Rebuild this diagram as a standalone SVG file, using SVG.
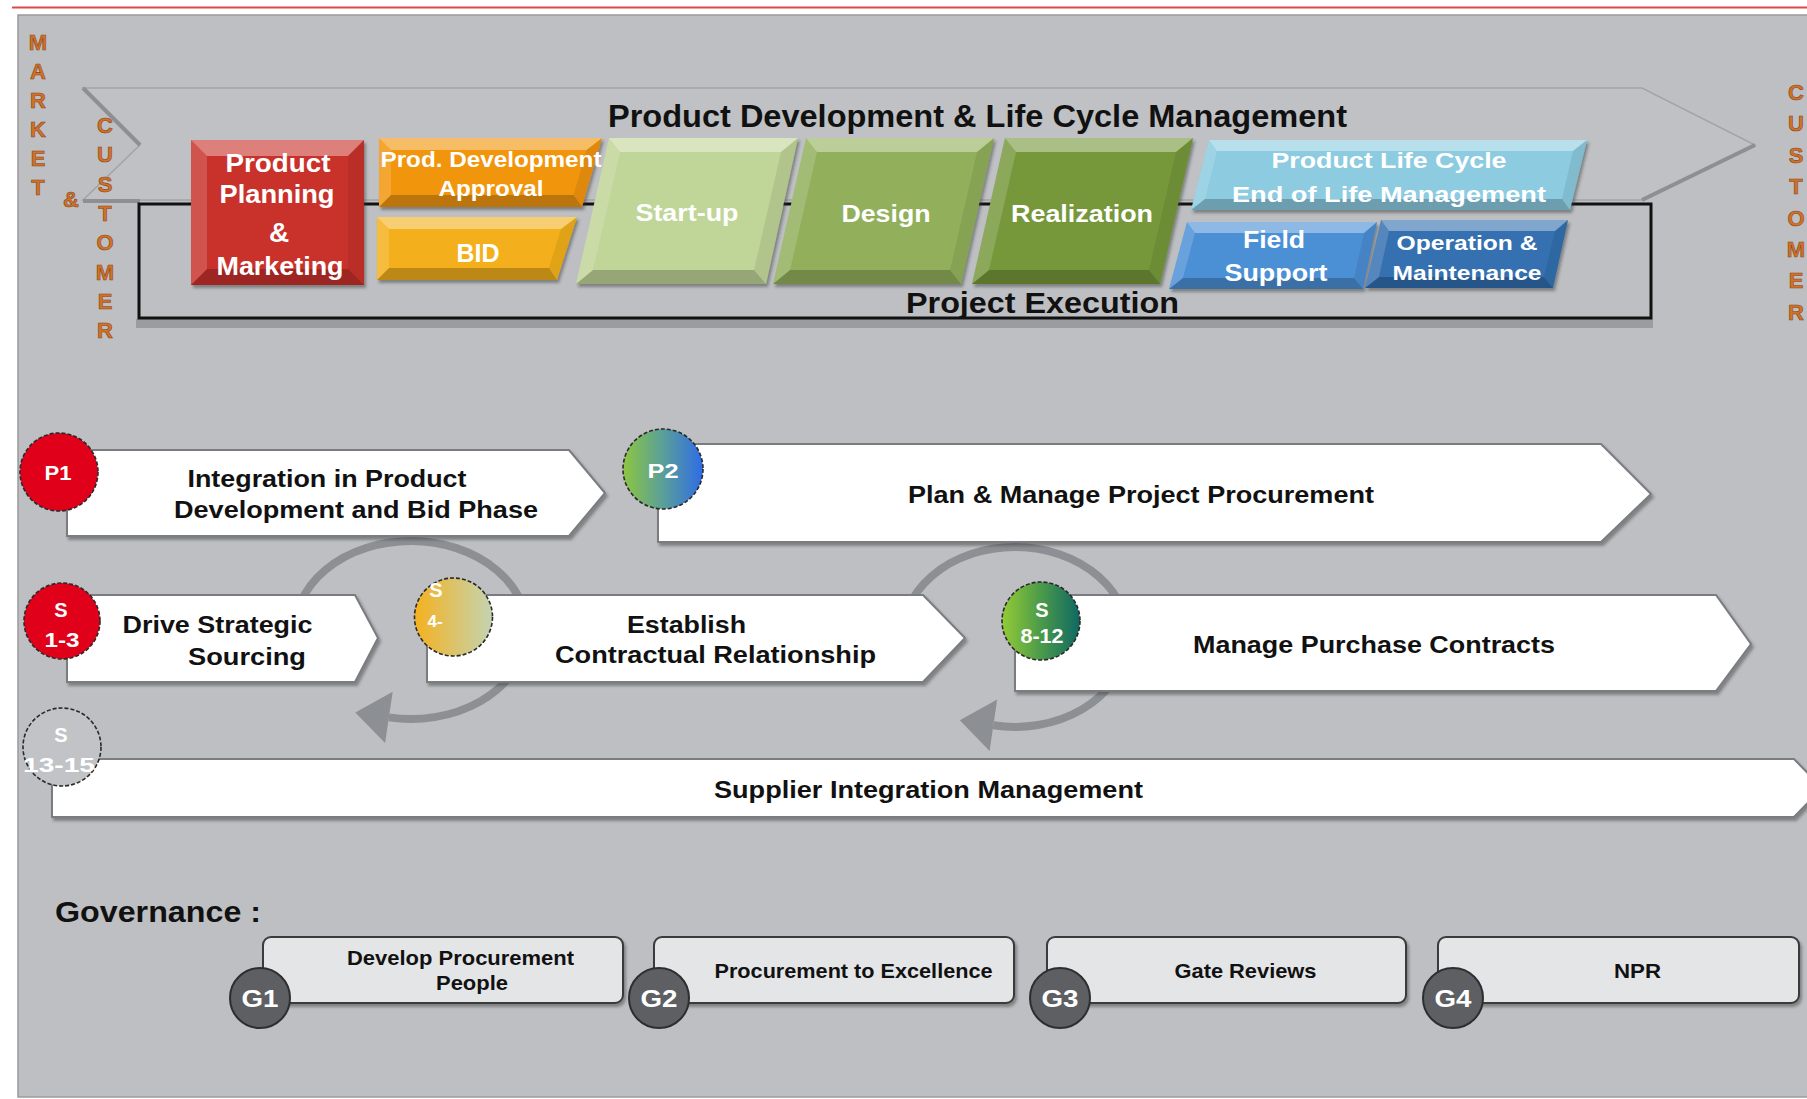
<svg xmlns="http://www.w3.org/2000/svg" width="1807" height="1099" viewBox="0 0 1807 1099">
<defs>
<style>
text{font-family:"Liberation Sans",Arial,sans-serif;font-weight:bold}
.mk{fill:#d2722a;stroke:#8a4413;stroke-width:.6;font-size:22px;text-anchor:middle}
.wt{fill:#fff;text-anchor:middle}
.bk{fill:#111;text-anchor:middle}
.bt{fill:#fff;fill-opacity:.38}
.bl{fill:#fff;fill-opacity:.16}
.br{fill:#000;fill-opacity:.08}
.bb{fill:#000;fill-opacity:.22}
.arw{fill:#fff;stroke:#7a7c80;stroke-width:2;filter:url(#sh)}
.cir{stroke:#2a2a2a;stroke-width:1.6;stroke-dasharray:4 2}
.gov{fill:#e4e5e7;stroke:#3a3a3a;stroke-width:2;filter:url(#sh)}
.gc{fill:#5e5f62;stroke:#2e2e2e;stroke-width:2}
.loop{fill:none;stroke:#8c9095;stroke-width:8}
.head{fill:#8c9095}
</style>
<filter id="sh" x="-5%" y="-10%" width="115%" height="130%"><feDropShadow dx="2" dy="3" stdDeviation="1.8" flood-color="#333" flood-opacity="0.45"/></filter>
<linearGradient id="gP2" x1="0" y1="0" x2="1" y2="0"><stop offset="0" stop-color="#8dc63f"/><stop offset="0.5" stop-color="#5a9f9a"/><stop offset="1" stop-color="#2e6ce6"/></linearGradient>
<linearGradient id="gS4" x1="0" y1="0" x2="1" y2="0"><stop offset="0" stop-color="#f5b11e"/><stop offset="1" stop-color="#c3d4b2"/></linearGradient>
<linearGradient id="gS8" x1="0" y1="0" x2="1" y2="0"><stop offset="0" stop-color="#93cb36"/><stop offset="0.5" stop-color="#4b9a4a"/><stop offset="1" stop-color="#0e6863"/></linearGradient>
</defs>

<!-- background -->
<rect x="0" y="0" width="1807" height="1099" fill="#ffffff"/>
<line x1="12" y1="7.5" x2="1807" y2="7.5" stroke="#e04848" stroke-width="2"/>
<rect x="18" y="15" width="1800" height="1082" fill="#bdbfc2" stroke="#9a9b9e" stroke-width="1.5"/>

<!-- side labels -->
<g id="market-customer-left">
<text class="mk" x="38" y="50">M</text>
<text class="mk" x="38" y="79">A</text>
<text class="mk" x="38" y="108">R</text>
<text class="mk" x="38" y="137">K</text>
<text class="mk" x="38" y="166">E</text>
<text class="mk" x="38" y="195">T</text>
<text class="mk" x="71" y="207">&amp;</text>
</g>

<!-- chevron band -->
<g id="lifecycle-band">
<polygon points="83,88 1642,88 1755,145 1642,200 83,200 140,145" fill="#bfc1c4" stroke="#a2a4a7" stroke-width="1.5"/>
<line x1="83" y1="88" x2="140" y2="145" stroke="#8d8f93" stroke-width="4"/>
<line x1="1755" y1="145" x2="1642" y2="200" stroke="#8d8f93" stroke-width="4"/>
<line x1="83" y1="201" x2="140" y2="201" stroke="#8d8f93" stroke-width="4"/>
<text class="bk" x="977.5" y="127" font-size="32" textLength="739" lengthAdjust="spacingAndGlyphs">Product Development &amp; Life Cycle Management</text>
</g>

<g id="customer-left-letters">
<text class="mk" x="105" y="133" font-size="23">C</text>
<text class="mk" x="105" y="162" font-size="23">U</text>
<text class="mk" x="105" y="192" font-size="23">S</text>
<text class="mk" x="105" y="221" font-size="23">T</text>
<text class="mk" x="105" y="250" font-size="23">O</text>
<text class="mk" x="105" y="280" font-size="23">M</text>
<text class="mk" x="105" y="309" font-size="23">E</text>
<text class="mk" x="105" y="338" font-size="23">R</text>
</g>
<g id="customer-right">
<text class="mk" x="1796" y="100" font-size="23">C</text>
<text class="mk" x="1796" y="131" font-size="23">U</text>
<text class="mk" x="1796" y="163" font-size="23">S</text>
<text class="mk" x="1796" y="194" font-size="23">T</text>
<text class="mk" x="1796" y="226" font-size="23">O</text>
<text class="mk" x="1796" y="257" font-size="23">M</text>
<text class="mk" x="1796" y="288" font-size="23">E</text>
<text class="mk" x="1796" y="320" font-size="23">R</text>
</g>

<!-- project execution frame -->
<g id="project-execution">
<rect x="136" y="319" width="1517" height="9" fill="#9a9ca0"/>
<rect x="139" y="204" width="1512" height="114" fill="none" stroke="#111" stroke-width="3"/>
<text class="bk" x="1042.5" y="313" font-size="29" textLength="273" lengthAdjust="spacingAndGlyphs">Project Execution</text>
</g>

<!-- phase boxes -->
<g id="product-planning" filter="url(#sh)">
<polygon points="191,140 364,140 364,285 191,285" fill="#c9322b"/>
<polygon class="bt" points="191,140 364,140 348,156 207,156"/>
<polygon class="br" points="364,140 364,285 348,269 348,156"/>
<polygon class="bb" points="364,285 191,285 207,269 348,269"/>
<polygon class="bl" points="191,285 191,140 207,156 207,269"/>
</g>
<g id="product-planning-text">
<text class="wt" x="278" y="172" font-size="26" textLength="105" lengthAdjust="spacingAndGlyphs">Product</text>
<text class="wt" x="277" y="203" font-size="26" textLength="115" lengthAdjust="spacingAndGlyphs">Planning</text>
<text class="wt" x="279" y="242" font-size="28">&amp;</text>
<text class="wt" x="280" y="275" font-size="26" textLength="127" lengthAdjust="spacingAndGlyphs">Marketing</text>
</g>

<g id="prod-dev-approval">
<g filter="url(#sh)">
<polygon points="379,138 602,138 582,207 379,207" fill="#f19509"/>
<polygon class="bt" points="379,138 602,138 586.5,150 391,150"/>
<polygon class="br" points="602,138 582,207 573.5,195 586.5,150"/>
<polygon class="bb" points="582,207 379,207 391,195 573.5,195"/>
<polygon class="bl" points="379,207 379,138 391,150 391,195"/>
</g>
<text class="wt" x="491" y="167" font-size="22" textLength="221" lengthAdjust="spacingAndGlyphs">Prod. Development</text>
<text class="wt" x="491" y="196" font-size="22" textLength="105" lengthAdjust="spacingAndGlyphs">Approval</text>
</g>

<g id="bid">
<g filter="url(#sh)">
<polygon points="377,217 577,217 557,280 377,280" fill="#f3b01a"/>
<polygon class="bt" points="377,217 577,217 561,229 389,229"/>
<polygon class="br" points="577,217 557,280 549,268 561,229"/>
<polygon class="bb" points="557,280 377,280 389,268 549,268"/>
<polygon class="bl" points="377,280 377,217 389,229 389,268"/>
</g>
<text class="wt" x="478" y="262" font-size="25" textLength="43" lengthAdjust="spacingAndGlyphs">BID</text>
</g>

<g id="start-up">
<g filter="url(#sh)">
<polygon points="609,138 798,138 766,284 576,284" fill="#c0d598"/>
<polygon class="bt" points="609,138 798,138 781,152 620,152"/>
<polygon class="br" points="798,138 766,284 754,270 781,152"/>
<polygon class="bb" points="766,284 576,284 593,270 754,270"/>
<polygon class="bl" points="576,284 609,138 620,152 593,270"/>
</g>
<text class="wt" x="687" y="221" font-size="24" textLength="103" lengthAdjust="spacingAndGlyphs">Start-up</text>
</g>

<g id="design">
<g filter="url(#sh)">
<polygon points="806,138 994,138 961,284 773,284" fill="#92b05b"/>
<polygon class="bt" points="806,138 994,138 977,152 817,152"/>
<polygon class="br" points="994,138 961,284 950,270 977,152"/>
<polygon class="bb" points="961,284 773,284 790,270 950,270"/>
<polygon class="bl" points="773,284 806,138 817,152 790,270"/>
</g>
<text class="wt" x="886" y="222" font-size="24" textLength="89" lengthAdjust="spacingAndGlyphs">Design</text>
</g>

<g id="realization">
<g filter="url(#sh)">
<polygon points="1005,138 1193,138 1160,284 972,284" fill="#76983b"/>
<polygon class="bt" points="1005,138 1193,138 1176,152 1016,152"/>
<polygon class="br" points="1193,138 1160,284 1149,270 1176,152"/>
<polygon class="bb" points="1160,284 972,284 989,270 1149,270"/>
<polygon class="bl" points="972,284 1005,138 1016,152 989,270"/>
</g>
<text class="wt" x="1082" y="222" font-size="24" textLength="142" lengthAdjust="spacingAndGlyphs">Realization</text>
</g>

<g id="product-life-cycle">
<g filter="url(#sh)">
<polygon points="1209,140 1587,140 1570,210 1191,210" fill="#8ccbe0"/>
<polygon class="bt" points="1209,140 1587,140 1573,151 1217,151"/>
<polygon class="br" points="1587,140 1570,210 1562,199 1573,151"/>
<polygon class="bb" points="1570,210 1191,210 1205,199 1562,199"/>
<polygon class="bl" points="1191,210 1209,140 1217,151 1205,199"/>
</g>
<text class="wt" x="1389" y="168" font-size="22" textLength="235" lengthAdjust="spacingAndGlyphs">Product Life Cycle</text>
<text class="wt" x="1389" y="202" font-size="22" textLength="314" lengthAdjust="spacingAndGlyphs">End of Life Management</text>
</g>

<g id="field-support">
<g filter="url(#sh)">
<polygon points="1187,222 1377,222 1363,289 1169,289" fill="#4b8fd5"/>
<polygon class="bt" points="1187,222 1377,222 1364,233 1195,233"/>
<polygon class="br" points="1377,222 1363,289 1354,278 1364,233"/>
<polygon class="bb" points="1363,289 1169,289 1183,278 1354,278"/>
<polygon class="bl" points="1169,289 1187,222 1195,233 1183,278"/>
</g>
<text class="wt" x="1274" y="248" font-size="23" textLength="62" lengthAdjust="spacingAndGlyphs">Field</text>
<text class="wt" x="1276" y="281" font-size="23" textLength="103" lengthAdjust="spacingAndGlyphs">Support</text>
</g>

<g id="operation-maintenance">
<g filter="url(#sh)">
<polygon points="1381,220 1568,220 1553,288 1365,288" fill="#3470b0"/>
<polygon class="bt" points="1381,220 1568,220 1555,231 1389,231"/>
<polygon class="br" points="1568,220 1553,288 1544,277 1555,231"/>
<polygon class="bb" points="1553,288 1365,288 1379,277 1544,277"/>
<polygon class="bl" points="1365,288 1381,220 1389,231 1379,277"/>
</g>
<text class="wt" x="1467" y="250" font-size="21" textLength="141" lengthAdjust="spacingAndGlyphs">Operation &amp;</text>
<text class="wt" x="1467" y="280" font-size="21" textLength="149" lengthAdjust="spacingAndGlyphs">Maintenance</text>
</g>

<!-- connectors: circular arrows -->
<g id="connectors">
<path class="loop" d="M295.4,637.8 A116,89 0 1 1 388.9,717.4"/>
<polygon class="head" points="355.3,712.4 392.7,691.7 385.1,743.1"/>
<path class="loop" d="M902.4,644.8 A113,90 0 1 1 993.4,725.3"/>
<polygon class="head" points="959.8,720.3 997.2,699.6 989.6,751"/>
</g>

<!-- process arrows -->
<g id="p1">
<polygon class="arw" points="67,450 569,450 605,493 569,536 67,536"/>
<circle class="cir" cx="59" cy="472" r="39" fill="#e0001a"/>
<text class="wt" x="58" y="480" font-size="20" textLength="27" lengthAdjust="spacingAndGlyphs">P1</text>
<text class="bk" x="327" y="487" font-size="23" textLength="279" lengthAdjust="spacingAndGlyphs">Integration in Product</text>
<text class="bk" x="356" y="518" font-size="23" textLength="364" lengthAdjust="spacingAndGlyphs">Development and Bid Phase</text>
</g>

<g id="p2">
<polygon class="arw" points="658,444 1601,444 1651,494 1601,542 658,542"/>
<circle class="cir" cx="663" cy="469" r="40" fill="url(#gP2)"/>
<text class="wt" x="663" y="478" font-size="20" textLength="31" lengthAdjust="spacingAndGlyphs">P2</text>
<text class="bk" x="1141" y="503" font-size="23" textLength="466" lengthAdjust="spacingAndGlyphs">Plan &amp; Manage Project Procurement</text>
</g>

<g id="s1-3">
<polygon class="arw" points="67,595 355,595 378,638 355,682 67,682"/>
<circle class="cir" cx="62" cy="621" r="38" fill="#e0001a"/>
<text class="wt" x="61" y="617" font-size="20">S</text>
<text class="wt" x="62" y="647" font-size="20" textLength="35" lengthAdjust="spacingAndGlyphs">1-3</text>
<text class="bk" x="217.5" y="633" font-size="23" textLength="190" lengthAdjust="spacingAndGlyphs">Drive Strategic</text>
<text class="bk" x="247" y="665" font-size="23" textLength="118" lengthAdjust="spacingAndGlyphs">Sourcing</text>
</g>

<g id="s4-7">
<polygon class="arw" points="427,595 923,595 965,638 923,682 427,682"/>
<circle class="cir" cx="453.5" cy="617" r="39" fill="url(#gS4)"/>
<text class="wt" x="436" y="597" font-size="20">S</text>
<text class="wt" x="435" y="627" font-size="17">4-</text>
<text class="bk" x="686.5" y="633" font-size="23" textLength="119" lengthAdjust="spacingAndGlyphs">Establish</text>
<text class="bk" x="715.5" y="663" font-size="23" textLength="321" lengthAdjust="spacingAndGlyphs">Contractual Relationship</text>
</g>

<g id="s8-12">
<polygon class="arw" points="1015,595 1716,595 1751,644 1716,691 1015,691"/>
<circle class="cir" cx="1041" cy="621" r="39" fill="url(#gS8)"/>
<text class="wt" x="1042" y="617" font-size="20">S</text>
<text class="wt" x="1042" y="643" font-size="20" textLength="43" lengthAdjust="spacingAndGlyphs">8-12</text>
<text class="bk" x="1374" y="653" font-size="23" textLength="362" lengthAdjust="spacingAndGlyphs">Manage Purchase Contracts</text>
</g>

<g id="s13-15">
<polygon class="arw" points="52,759 1794,759 1822,788 1794,817 52,817"/>
<circle class="cir" cx="62" cy="747" r="39" fill="#c1c3c6"/>
<text class="wt" x="61" y="742" font-size="20">S</text>
<text class="wt" x="59" y="772" font-size="20" textLength="72" lengthAdjust="spacingAndGlyphs">13-15</text>
<text class="bk" x="928.5" y="798" font-size="23" textLength="429" lengthAdjust="spacingAndGlyphs">Supplier Integration Management</text>
</g>

<!-- governance -->
<g id="governance-title">
<text x="55" y="922" font-size="30" fill="#111" textLength="206" lengthAdjust="spacingAndGlyphs">Governance :</text>
</g>

<g id="g1">
<rect class="gov" x="263" y="937" width="360" height="66" rx="8"/>
<text class="bk" x="460.5" y="965" font-size="21" textLength="227" lengthAdjust="spacingAndGlyphs">Develop Procurement</text>
<text class="bk" x="472" y="990" font-size="21" textLength="72" lengthAdjust="spacingAndGlyphs">People</text>
<circle class="gc" cx="260" cy="998" r="30"/>
<text class="wt" x="260" y="1007" font-size="24" textLength="37" lengthAdjust="spacingAndGlyphs">G1</text>
</g>

<g id="g2">
<rect class="gov" x="654" y="937" width="360" height="66" rx="8"/>
<text class="bk" x="853.5" y="978" font-size="21" textLength="278" lengthAdjust="spacingAndGlyphs">Procurement to Excellence</text>
<circle class="gc" cx="659" cy="998" r="30"/>
<text class="wt" x="659" y="1007" font-size="24" textLength="37" lengthAdjust="spacingAndGlyphs">G2</text>
</g>

<g id="g3">
<rect class="gov" x="1047" y="937" width="359" height="66" rx="8"/>
<text class="bk" x="1245.5" y="978" font-size="21" textLength="142" lengthAdjust="spacingAndGlyphs">Gate Reviews</text>
<circle class="gc" cx="1060" cy="998" r="30"/>
<text class="wt" x="1060" y="1007" font-size="24" textLength="37" lengthAdjust="spacingAndGlyphs">G3</text>
</g>

<g id="g4">
<rect class="gov" x="1438" y="937" width="361" height="66" rx="8"/>
<text class="bk" x="1637.5" y="978" font-size="21" textLength="47" lengthAdjust="spacingAndGlyphs">NPR</text>
<circle class="gc" cx="1453" cy="998" r="30"/>
<text class="wt" x="1453" y="1007" font-size="24" textLength="37" lengthAdjust="spacingAndGlyphs">G4</text>
</g>
</svg>
